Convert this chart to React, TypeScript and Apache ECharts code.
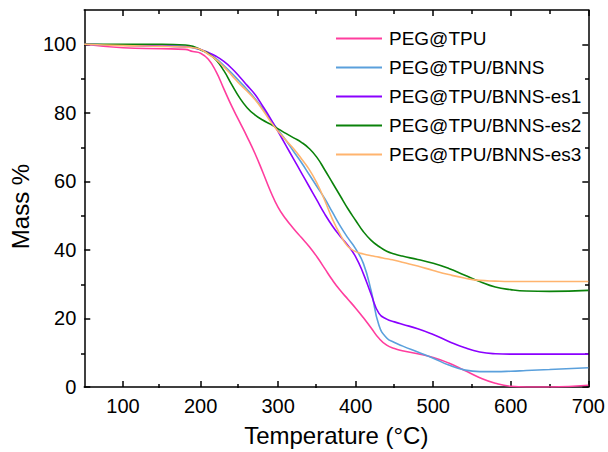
import React, { useEffect, useRef } from "react";
import * as echarts from "echarts";

const temps = [50, 100, 150, 180, 190, 200, 210, 220, 230, 240, 250, 260, 270, 280, 290, 300, 310, 320, 330, 340, 350, 360, 370, 380, 390, 400, 410, 420, 430, 440, 450, 460, 480, 500, 520, 540, 560, 580, 600, 620, 650, 700];

const pegTpu = [100, 99, 98.7, 98.5, 97.9, 97.4, 95.6, 92, 87, 82, 77.5, 73, 68.2, 62.8, 57.2, 52.4, 49, 46.2, 43.6, 41, 38, 34.6, 31.2, 28.2, 25.6, 23, 20.2, 17.2, 14.2, 12.2, 11.2, 10.6, 9.7, 8.6, 7, 4.9, 2.7, 1.1, 0.2, 0, 0, 0.5];
const pegTpuBnns = [100, 99.7, 99.5, 99.3, 99, 98.4, 97.2, 95.8, 93.8, 91.6, 89.2, 86.8, 84.2, 81.3, 78, 75, 72, 68.7, 65.5, 62, 58.5, 55, 51, 47, 43.5, 40.3, 36, 28, 18, 14.3, 13, 12, 10.2, 8.4, 6.4, 5, 4.5, 4.5, 4.6, 4.8, 5.1, 5.6];
const pegTpuBnnsEs1 = [100, 99.7, 99.5, 99.3, 99.1, 98.5, 97.6, 96.5, 95, 93, 90.6, 88, 85.4, 82, 78.4, 74.5, 70.5, 66.5, 62.5, 58.5, 54.5, 50.5, 47, 44, 41.3, 38, 33, 27, 21.5, 19.8, 19, 18.3, 17, 15.3, 13.3, 11.5, 10.2, 9.7, 9.6, 9.6, 9.6, 9.6];
const pegTpuBnnsEs2 = [100, 100, 100, 99.8, 99.4, 98.4, 97.3, 95.4, 92.3, 88.3, 84.5, 81.5, 79.4, 77.9, 76.7, 75.3, 74, 72.7, 71.4, 69.6, 67, 63.4, 59.6, 55.8, 52, 48.6, 45.3, 42.8, 41, 39.6, 38.8, 38.2, 37.2, 36.1, 34.6, 32.7, 30.8, 29.2, 28.4, 28, 27.9, 28.2];
const pegTpuBnnsEs3 = [100, 99.6, 99.4, 99.2, 99, 98.5, 97.1, 95.5, 93.4, 91, 88.5, 86.3, 83.9, 80.9, 77.5, 74.6, 72, 69.5, 66.6, 63.5, 59.5, 54.5, 49, 44.5, 41, 39.5, 38.8, 38.3, 37.9, 37.4, 37, 36.4, 35.3, 34, 32.8, 31.8, 31.1, 30.9, 30.8, 30.8, 30.8, 30.8];

const seriesNames = ["PEG@TPU", "PEG@TPU/BNNS", "PEG@TPU/BNNS-es1", "PEG@TPU/BNNS-es2", "PEG@TPU/BNNS-es3"];
const seriesValues = [pegTpu, pegTpuBnns, pegTpuBnnsEs1, pegTpuBnnsEs2, pegTpuBnnsEs3];
const seriesColors = ["#FF3D9E", "#5AA0DC", "#8A00FF", "#0A820A", "#FFB46E"];

const xMajorTicks = [100, 200, 300, 400, 500, 600, 700];
const xMinorTicks = [150, 250, 350, 450, 550, 650];
const yMajorTicks = [0, 20, 40, 60, 80, 100];
const yMinorTicks = [10, 30, 50, 70, 90];

const FONT = "'Liberation Sans', Arial, sans-serif";

export default function App() {
  const ref = useRef<HTMLDivElement>(null);
  useEffect(() => {
    if (!ref.current) return;
    const chart = echarts.init(ref.current, undefined, { renderer: "svg" });
    const gridPos = { left: 81, right: 19, top: 10, bottom: 64, containLabel: false };
    const lineStyle = { color: "#000", width: 1.5 };
    const mkX = (gridIndex: number, position: string, ticks: number[], len: number, main: boolean, labels: boolean) => ({
      type: "value",
      gridIndex,
      position,
      min: 50,
      max: 700,
      splitLine: { show: false },
      axisLine: { show: main, onZero: false, lineStyle },
      axisTick: { show: true, inside: true, length: len, customValues: ticks, lineStyle: { color: "#000", width: 1.5 } },
      axisLabel: labels
        ? { show: true, customValues: xMajorTicks, color: "#000", fontSize: 20, fontFamily: FONT, margin: 9 }
        : { show: false },
      ...(labels
        ? {
            name: "Temperature (\u00B0C)",
            nameLocation: "middle",
            nameGap: 36,
            nameTextStyle: { color: "#000", fontSize: 24, fontFamily: FONT },
          }
        : {}),
    });
    const mkY = (gridIndex: number, position: string, ticks: number[], len: number, main: boolean, labels: boolean) => ({
      type: "value",
      gridIndex,
      position,
      min: 0,
      max: 110,
      splitLine: { show: false },
      axisLine: { show: main, onZero: false, lineStyle },
      axisTick: { show: true, inside: true, length: len, customValues: ticks, lineStyle: { color: "#000", width: 1.5 } },
      axisLabel: labels
        ? { show: true, customValues: yMajorTicks, color: "#000", fontSize: 20, fontFamily: FONT, margin: 8 }
        : { show: false },
      ...(labels
        ? {
            name: "Mass %",
            nameLocation: "middle",
            nameGap: 45,
            nameTextStyle: { color: "#000", fontSize: 24, fontFamily: FONT, padding: [0, 16, 0, 0] },
          }
        : {}),
    });
    chart.setOption({
      animation: false,
      backgroundColor: "#fff",
      grid: [gridPos, gridPos],
      legend: {
        orient: "vertical",
        left: 336,
        top: 29,
        padding: 0,
        icon: "rect",
        itemWidth: 46,
        itemHeight: 2,
        itemGap: 10,
        textStyle: { color: "#000", fontSize: 19, fontFamily: FONT, padding: [0, 0, 0, 2] },
        data: seriesNames,
      },
      xAxis: [
        mkX(0, "bottom", xMajorTicks, 6, true, true),
        mkX(0, "top", xMajorTicks, 6, true, false),
        mkX(1, "bottom", xMinorTicks, 4, false, false),
        mkX(1, "top", xMinorTicks, 4, false, false),
      ],
      yAxis: [
        mkY(0, "left", yMajorTicks, 6, true, true),
        mkY(0, "right", yMajorTicks, 6, true, false),
        mkY(1, "left", yMinorTicks, 4, false, false),
        mkY(1, "right", yMinorTicks, 4, false, false),
      ],
      series: seriesNames.map((name, i) => ({
        name,
        type: "line",
        xAxisIndex: 0,
        yAxisIndex: 0,
        symbol: "none",
        smooth: 0.5,
        color: seriesColors[i],
        lineStyle: { color: seriesColors[i], width: 1.6 },
        data: temps.map((t, j) => [t, seriesValues[i][j]]),
        z: 3,
      })),
    });
    return () => chart.dispose();
  }, []);
  return <div ref={ref} style={{ position: "fixed", left: 0, top: 0, width: 608, height: 452 }} />;
}
